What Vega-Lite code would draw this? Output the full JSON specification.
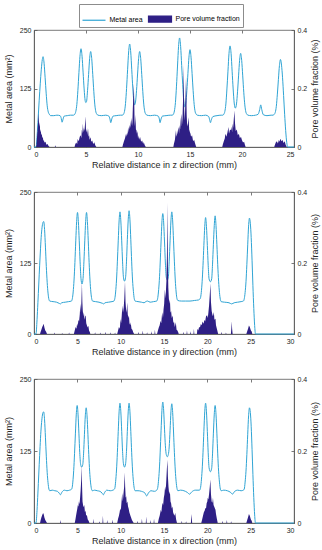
{
  "$schema": "https://vega.github.io/schema/vega-lite/v6.json",
  "padding": {"left": 3, "top": 3, "right": 1, "bottom": 2},
  "datasets": {
    "m1": [{"x":0,"y":0},{"x":0.2,"y":0},{"x":0.3,"y":25},{"x":0.4,"y":62},{"x":0.5,"y":100},{"x":0.6,"y":135},{"x":0.7,"y":165},{"x":0.8,"y":187},{"x":0.87,"y":193},{"x":0.97,"y":179},{"x":1.07,"y":148},{"x":1.17,"y":115},{"x":1.27,"y":88},{"x":1.37,"y":75},{"x":1.47,"y":70},{"x":1.6,"y":67},{"x":1.9,"y":67},{"x":2.2,"y":68},{"x":2.5,"y":67},{"x":2.6,"y":63},{"x":2.7,"y":53},{"x":2.8,"y":60},{"x":2.9,"y":66},{"x":3.2,"y":67},{"x":3.5,"y":68},{"x":3.8,"y":68},{"x":3.92,"y":70},{"x":4.02,"y":76},{"x":4.12,"y":91},{"x":4.22,"y":121},{"x":4.32,"y":159},{"x":4.42,"y":194},{"x":4.52,"y":210},{"x":4.62,"y":194},{"x":4.72,"y":160},{"x":4.82,"y":124},{"x":4.92,"y":99},{"x":4.985,"y":95},{"x":5.05,"y":97},{"x":5.15,"y":121},{"x":5.25,"y":155},{"x":5.35,"y":189},{"x":5.45,"y":204},{"x":5.55,"y":189},{"x":5.65,"y":155},{"x":5.75,"y":119},{"x":5.85,"y":90},{"x":5.95,"y":75},{"x":6.05,"y":70},{"x":6.15,"y":68},{"x":6.5,"y":67},{"x":6.9,"y":68},{"x":7.2,"y":66},{"x":7.3,"y":60},{"x":7.38,"y":52},{"x":7.48,"y":60},{"x":7.6,"y":66},{"x":7.9,"y":67},{"x":8.3,"y":68},{"x":8.5,"y":68},{"x":8.6,"y":70},{"x":8.7,"y":76},{"x":8.8,"y":93},{"x":8.9,"y":125},{"x":9.0,"y":165},{"x":9.1,"y":203},{"x":9.2,"y":220},{"x":9.3,"y":203},{"x":9.4,"y":165},{"x":9.5,"y":126},{"x":9.6,"y":98},{"x":9.68,"y":90},{"x":9.76,"y":96},{"x":9.86,"y":121},{"x":9.96,"y":156},{"x":10.06,"y":189},{"x":10.16,"y":204},{"x":10.26,"y":189},{"x":10.36,"y":155},{"x":10.46,"y":119},{"x":10.56,"y":90},{"x":10.66,"y":75},{"x":10.76,"y":70},{"x":10.86,"y":68},{"x":11.2,"y":67},{"x":11.6,"y":68},{"x":11.95,"y":66},{"x":12.05,"y":60},{"x":12.12,"y":52},{"x":12.22,"y":60},{"x":12.35,"y":66},{"x":12.7,"y":67},{"x":13.1,"y":68},{"x":13.3,"y":68},{"x":13.4,"y":70},{"x":13.5,"y":77},{"x":13.6,"y":95},{"x":13.7,"y":130},{"x":13.8,"y":173},{"x":13.9,"y":215},{"x":14.0,"y":233},{"x":14.1,"y":215},{"x":14.2,"y":174},{"x":14.3,"y":133},{"x":14.4,"y":98},{"x":14.5,"y":86},{"x":14.6,"y":94},{"x":14.7,"y":121},{"x":14.8,"y":157},{"x":14.9,"y":192},{"x":15.0,"y":208},{"x":15.1,"y":192},{"x":15.2,"y":157},{"x":15.3,"y":121},{"x":15.4,"y":91},{"x":15.5,"y":75},{"x":15.6,"y":70},{"x":15.7,"y":68},{"x":16.1,"y":67},{"x":16.5,"y":68},{"x":16.8,"y":65},{"x":16.9,"y":57},{"x":16.97,"y":52},{"x":17.05,"y":58},{"x":17.2,"y":65},{"x":17.6,"y":67},{"x":18.0,"y":68},{"x":18.15,"y":68},{"x":18.25,"y":70},{"x":18.35,"y":76},{"x":18.45,"y":92},{"x":18.55,"y":124},{"x":18.65,"y":162},{"x":18.75,"y":200},{"x":18.85,"y":216},{"x":18.95,"y":200},{"x":19.05,"y":162},{"x":19.15,"y":124},{"x":19.25,"y":94},{"x":19.36,"y":83},{"x":19.47,"y":92},{"x":19.57,"y":118},{"x":19.67,"y":152},{"x":19.77,"y":185},{"x":19.87,"y":200},{"x":19.97,"y":185},{"x":20.07,"y":152},{"x":20.17,"y":117},{"x":20.27,"y":90},{"x":20.37,"y":75},{"x":20.47,"y":70},{"x":20.57,"y":68},{"x":20.9,"y":67},{"x":21.3,"y":68},{"x":21.55,"y":70},{"x":21.7,"y":80},{"x":21.8,"y":90},{"x":21.9,"y":80},{"x":22.05,"y":69},{"x":22.4,"y":67},{"x":22.8,"y":68},{"x":23.0,"y":68},{"x":23.1,"y":70},{"x":23.2,"y":74},{"x":23.3,"y":87},{"x":23.4,"y":113},{"x":23.5,"y":144},{"x":23.6,"y":174},{"x":23.7,"y":187},{"x":23.8,"y":175},{"x":23.9,"y":148},{"x":24.0,"y":110},{"x":24.1,"y":70},{"x":24.2,"y":35},{"x":24.3,"y":10},{"x":24.4,"y":0},{"x":25,"y":0}],
    "p1": [{"x":0,"y":0},{"x":0.2,"y":0},{"x":0.25,"y":0.01},{"x":0.3,"y":0.04},{"x":0.35,"y":0.06},{"x":0.4,"y":0.09},{"x":0.45,"y":0.115},{"x":0.5,"y":0.07},{"x":0.55,"y":0.085},{"x":0.6,"y":0.05},{"x":0.65,"y":0.06},{"x":0.7,"y":0.04},{"x":0.75,"y":0.045},{"x":0.8,"y":0.03},{"x":0.85,"y":0.035},{"x":0.9,"y":0.02},{"x":0.95,"y":0.025},{"x":1.0,"y":0.015},{"x":1.1,"y":0.018},{"x":1.2,"y":0.008},{"x":1.3,"y":0.01},{"x":1.4,"y":0.003},{"x":1.5,"y":0},{"x":2.0,"y":0},{"x":2.05,"y":0.006},{"x":2.1,"y":0},{"x":3.9,"y":0},{"x":3.95,"y":0.008},{"x":4.05,"y":0.015},{"x":4.15,"y":0.01},{"x":4.2,"y":0.027},{"x":4.3,"y":0.02},{"x":4.4,"y":0.035},{"x":4.5,"y":0.04},{"x":4.55,"y":0.03},{"x":4.6,"y":0.06},{"x":4.65,"y":0.045},{"x":4.7,"y":0.08},{"x":4.75,"y":0.05},{"x":4.8,"y":0.065},{"x":4.85,"y":0.055},{"x":4.9,"y":0.075},{"x":4.95,"y":0.105},{"x":5.0,"y":0.06},{"x":5.05,"y":0.05},{"x":5.1,"y":0.065},{"x":5.15,"y":0.04},{"x":5.2,"y":0.062},{"x":5.25,"y":0.035},{"x":5.3,"y":0.04},{"x":5.35,"y":0.025},{"x":5.45,"y":0.033},{"x":5.5,"y":0.018},{"x":5.6,"y":0.022},{"x":5.7,"y":0.01},{"x":5.8,"y":0.016},{"x":5.9,"y":0.005},{"x":6.0,"y":0},{"x":8.5,"y":0},{"x":8.55,"y":0.008},{"x":8.65,"y":0.02},{"x":8.75,"y":0.03},{"x":8.85,"y":0.045},{"x":8.9,"y":0.035},{"x":8.95,"y":0.05},{"x":9.0,"y":0.04},{"x":9.05,"y":0.068},{"x":9.1,"y":0.05},{"x":9.15,"y":0.075},{"x":9.2,"y":0.06},{"x":9.25,"y":0.09},{"x":9.3,"y":0.065},{"x":9.35,"y":0.08},{"x":9.4,"y":0.1},{"x":9.45,"y":0.07},{"x":9.5,"y":0.13},{"x":9.55,"y":0.17},{"x":9.6,"y":0.215},{"x":9.64,"y":0.15},{"x":9.67,"y":0.09},{"x":9.7,"y":0.07},{"x":9.75,"y":0.11},{"x":9.8,"y":0.06},{"x":9.85,"y":0.057},{"x":9.9,"y":0.045},{"x":9.95,"y":0.055},{"x":10.0,"y":0.03},{"x":10.05,"y":0.04},{"x":10.1,"y":0.025},{"x":10.2,"y":0.034},{"x":10.3,"y":0.018},{"x":10.4,"y":0.022},{"x":10.5,"y":0.01},{"x":10.55,"y":0.017},{"x":10.65,"y":0.006},{"x":10.75,"y":0},{"x":13.4,"y":0},{"x":13.45,"y":0.01},{"x":13.55,"y":0.025},{"x":13.65,"y":0.057},{"x":13.7,"y":0.035},{"x":13.8,"y":0.05},{"x":13.9,"y":0.068},{"x":13.95,"y":0.045},{"x":14.0,"y":0.075},{"x":14.05,"y":0.06},{"x":14.1,"y":0.09},{"x":14.17,"y":0.114},{"x":14.22,"y":0.07},{"x":14.28,"y":0.1},{"x":14.33,"y":0.16},{"x":14.39,"y":0.28},{"x":14.44,"y":0.13},{"x":14.5,"y":0.09},{"x":14.55,"y":0.15},{"x":14.62,"y":0.24},{"x":14.68,"y":0.11},{"x":14.73,"y":0.07},{"x":14.8,"y":0.08},{"x":14.87,"y":0.102},{"x":14.92,"y":0.06},{"x":15.0,"y":0.05},{"x":15.05,"y":0.045},{"x":15.1,"y":0.035},{"x":15.2,"y":0.04},{"x":15.3,"y":0.02},{"x":15.4,"y":0.025},{"x":15.45,"y":0.017},{"x":15.55,"y":0.005},{"x":15.6,"y":0},{"x":18.1,"y":0},{"x":18.15,"y":0.008},{"x":18.25,"y":0.02},{"x":18.35,"y":0.03},{"x":18.4,"y":0.045},{"x":18.5,"y":0.035},{"x":18.6,"y":0.05},{"x":18.7,"y":0.068},{"x":18.75,"y":0.045},{"x":18.85,"y":0.06},{"x":18.95,"y":0.057},{"x":19.0,"y":0.07},{"x":19.05,"y":0.05},{"x":19.1,"y":0.08},{"x":19.15,"y":0.065},{"x":19.2,"y":0.09},{"x":19.27,"y":0.125},{"x":19.33,"y":0.08},{"x":19.4,"y":0.055},{"x":19.5,"y":0.06},{"x":19.6,"y":0.04},{"x":19.7,"y":0.045},{"x":19.8,"y":0.03},{"x":19.9,"y":0.035},{"x":20.0,"y":0.023},{"x":20.1,"y":0.015},{"x":20.2,"y":0.018},{"x":20.3,"y":0.005},{"x":20.35,"y":0},{"x":23.1,"y":0},{"x":23.15,"y":0.006},{"x":23.25,"y":0.015},{"x":23.35,"y":0.02},{"x":23.45,"y":0.012},{"x":23.55,"y":0.025},{"x":23.6,"y":0.018},{"x":23.7,"y":0.028},{"x":23.8,"y":0.02},{"x":23.9,"y":0.024},{"x":24.0,"y":0.014},{"x":24.1,"y":0.02},{"x":24.2,"y":0.008},{"x":24.3,"y":0},{"x":25,"y":0}],
    "m2": [{"x":0,"y":0},{"x":0.23,"y":0},{"x":0.35,"y":25},{"x":0.45,"y":55},{"x":0.55,"y":88},{"x":0.65,"y":120},{"x":0.75,"y":150},{"x":0.85,"y":175},{"x":0.95,"y":190},{"x":1.05,"y":197},{"x":1.12,"y":198},{"x":1.22,"y":184},{"x":1.32,"y":153},{"x":1.42,"y":119},{"x":1.52,"y":91},{"x":1.62,"y":72},{"x":1.72,"y":61},{"x":1.82,"y":58},{"x":2.2,"y":57},{"x":2.6,"y":56},{"x":2.9,"y":54},{"x":3.05,"y":53},{"x":3.2,"y":55},{"x":3.6,"y":56},{"x":4.0,"y":57},{"x":4.32,"y":58},{"x":4.42,"y":62},{"x":4.52,"y":74},{"x":4.62,"y":95},{"x":4.72,"y":126},{"x":4.82,"y":164},{"x":4.92,"y":198},{"x":5.02,"y":214},{"x":5.12,"y":198},{"x":5.22,"y":164},{"x":5.32,"y":127},{"x":5.42,"y":98},{"x":5.54,"y":88},{"x":5.66,"y":98},{"x":5.76,"y":127},{"x":5.86,"y":164},{"x":5.96,"y":198},{"x":6.06,"y":214},{"x":6.16,"y":198},{"x":6.26,"y":164},{"x":6.36,"y":126},{"x":6.46,"y":95},{"x":6.56,"y":74},{"x":6.66,"y":62},{"x":6.76,"y":58},{"x":7.1,"y":57},{"x":7.5,"y":56},{"x":7.9,"y":54},{"x":8.05,"y":53},{"x":8.2,"y":55},{"x":8.6,"y":56},{"x":9.0,"y":57},{"x":9.22,"y":58},{"x":9.32,"y":62},{"x":9.42,"y":74},{"x":9.52,"y":95},{"x":9.62,"y":127},{"x":9.72,"y":164},{"x":9.82,"y":199},{"x":9.92,"y":215},{"x":10.02,"y":199},{"x":10.12,"y":164},{"x":10.22,"y":127},{"x":10.32,"y":100},{"x":10.445,"y":93},{"x":10.57,"y":100},{"x":10.67,"y":127},{"x":10.77,"y":166},{"x":10.87,"y":201},{"x":10.97,"y":217},{"x":11.07,"y":201},{"x":11.17,"y":166},{"x":11.27,"y":127},{"x":11.37,"y":95},{"x":11.47,"y":75},{"x":11.57,"y":62},{"x":11.67,"y":58},{"x":12.0,"y":57},{"x":12.4,"y":56},{"x":12.7,"y":55},{"x":12.9,"y":57},{"x":13.1,"y":58},{"x":13.4,"y":56},{"x":13.8,"y":57},{"x":14.16,"y":58},{"x":14.26,"y":62},{"x":14.36,"y":74},{"x":14.46,"y":94},{"x":14.56,"y":125},{"x":14.66,"y":162},{"x":14.76,"y":197},{"x":14.86,"y":212},{"x":14.96,"y":197},{"x":15.06,"y":162},{"x":15.16,"y":125},{"x":15.26,"y":100},{"x":15.38,"y":95},{"x":15.5,"y":100},{"x":15.6,"y":127},{"x":15.7,"y":164},{"x":15.8,"y":199},{"x":15.9,"y":215},{"x":16.0,"y":199},{"x":16.1,"y":164},{"x":16.2,"y":127},{"x":16.3,"y":95},{"x":16.4,"y":74},{"x":16.5,"y":62},{"x":16.6,"y":59},{"x":17.0,"y":58},{"x":17.5,"y":58},{"x":18.0,"y":58},{"x":18.5,"y":59},{"x":19.0,"y":60},{"x":19.1,"y":61},{"x":19.2,"y":63},{"x":19.3,"y":73},{"x":19.4,"y":92},{"x":19.5,"y":121},{"x":19.6,"y":156},{"x":19.7,"y":189},{"x":19.8,"y":205},{"x":19.9,"y":189},{"x":20.0,"y":156},{"x":20.1,"y":121},{"x":20.2,"y":97},{"x":20.35,"y":92},{"x":20.5,"y":97},{"x":20.6,"y":123},{"x":20.7,"y":158},{"x":20.8,"y":191},{"x":20.9,"y":208},{"x":21.0,"y":191},{"x":21.1,"y":158},{"x":21.2,"y":122},{"x":21.3,"y":93},{"x":21.4,"y":73},{"x":21.5,"y":61},{"x":21.6,"y":57},{"x":22.0,"y":56},{"x":22.5,"y":55},{"x":22.8,"y":53},{"x":23.1,"y":55},{"x":23.5,"y":56},{"x":23.9,"y":57},{"x":24.16,"y":58},{"x":24.26,"y":62},{"x":24.36,"y":73},{"x":24.46,"y":92},{"x":24.56,"y":122},{"x":24.66,"y":157},{"x":24.76,"y":190},{"x":24.86,"y":204},{"x":24.96,"y":195},{"x":25.06,"y":170},{"x":25.16,"y":130},{"x":25.26,"y":85},{"x":25.36,"y":45},{"x":25.46,"y":15},{"x":25.56,"y":0},{"x":30,"y":0}],
    "p2": [{"x":0,"y":0},{"x":0.7,"y":0},{"x":0.75,"y":0.005},{"x":0.85,"y":0.012},{"x":0.95,"y":0.02},{"x":1.05,"y":0.025},{"x":1.12,"y":0.029},{"x":1.2,"y":0.018},{"x":1.3,"y":0.01},{"x":1.4,"y":0.006},{"x":1.5,"y":0},{"x":2.3,"y":0},{"x":2.35,"y":0.004},{"x":2.4,"y":0},{"x":3.2,"y":0},{"x":3.25,"y":0.003},{"x":3.3,"y":0},{"x":4.0,"y":0},{"x":4.05,"y":0.004},{"x":4.1,"y":0},{"x":4.6,"y":0},{"x":4.7,"y":0.01},{"x":4.8,"y":0.02},{"x":4.9,"y":0.015},{"x":4.98,"y":0.03},{"x":5.05,"y":0.022},{"x":5.12,"y":0.04},{"x":5.2,"y":0.035},{"x":5.28,"y":0.055},{"x":5.35,"y":0.085},{"x":5.42,"y":0.06},{"x":5.48,"y":0.1},{"x":5.53,"y":0.145},{"x":5.58,"y":0.09},{"x":5.63,"y":0.065},{"x":5.7,"y":0.05},{"x":5.76,"y":0.062},{"x":5.82,"y":0.04},{"x":5.9,"y":0.05},{"x":5.96,"y":0.052},{"x":6.03,"y":0.03},{"x":6.1,"y":0.025},{"x":6.2,"y":0.018},{"x":6.27,"y":0.023},{"x":6.35,"y":0.01},{"x":6.45,"y":0.005},{"x":6.5,"y":0},{"x":7.0,"y":0},{"x":7.05,"y":0.005},{"x":7.1,"y":0},{"x":7.6,"y":0},{"x":7.65,"y":0.004},{"x":7.7,"y":0},{"x":8.2,"y":0},{"x":8.25,"y":0.006},{"x":8.3,"y":0},{"x":8.8,"y":0},{"x":8.85,"y":0.005},{"x":8.9,"y":0},{"x":9.3,"y":0},{"x":9.35,"y":0.004},{"x":9.4,"y":0},{"x":9.6,"y":0},{"x":9.7,"y":0.01},{"x":9.8,"y":0.02},{"x":9.9,"y":0.015},{"x":9.99,"y":0.042},{"x":10.05,"y":0.03},{"x":10.12,"y":0.05},{"x":10.2,"y":0.08},{"x":10.27,"y":0.06},{"x":10.35,"y":0.075},{"x":10.42,"y":0.1},{"x":10.5,"y":0.148},{"x":10.56,"y":0.09},{"x":10.62,"y":0.07},{"x":10.68,"y":0.06},{"x":10.76,"y":0.089},{"x":10.82,"y":0.055},{"x":10.9,"y":0.045},{"x":10.95,"y":0.052},{"x":11.02,"y":0.03},{"x":11.1,"y":0.025},{"x":11.15,"y":0.033},{"x":11.25,"y":0.015},{"x":11.35,"y":0.012},{"x":11.45,"y":0.005},{"x":11.55,"y":0},{"x":12.0,"y":0},{"x":12.05,"y":0.006},{"x":12.1,"y":0},{"x":12.5,"y":0},{"x":12.55,"y":0.01},{"x":12.6,"y":0},{"x":13.0,"y":0},{"x":13.05,"y":0.005},{"x":13.1,"y":0},{"x":13.5,"y":0},{"x":13.55,"y":0.008},{"x":13.6,"y":0},{"x":13.9,"y":0},{"x":13.95,"y":0.012},{"x":14.0,"y":0},{"x":14.2,"y":0},{"x":14.3,"y":0.01},{"x":14.4,"y":0.018},{"x":14.5,"y":0.025},{"x":14.6,"y":0.037},{"x":14.68,"y":0.03},{"x":14.75,"y":0.05},{"x":14.8,"y":0.061},{"x":14.88,"y":0.045},{"x":14.95,"y":0.07},{"x":15.02,"y":0.085},{"x":15.1,"y":0.126},{"x":15.16,"y":0.1},{"x":15.22,"y":0.12},{"x":15.28,"y":0.15},{"x":15.34,"y":0.22},{"x":15.4,"y":0.37},{"x":15.45,"y":0.2},{"x":15.5,"y":0.13},{"x":15.56,"y":0.1},{"x":15.62,"y":0.085},{"x":15.68,"y":0.098},{"x":15.75,"y":0.06},{"x":15.82,"y":0.065},{"x":15.9,"y":0.045},{"x":16.0,"y":0.052},{"x":16.08,"y":0.03},{"x":16.15,"y":0.035},{"x":16.25,"y":0.02},{"x":16.36,"y":0.033},{"x":16.45,"y":0.012},{"x":16.55,"y":0.01},{"x":16.65,"y":0.004},{"x":16.7,"y":0},{"x":17.2,"y":0},{"x":17.25,"y":0.006},{"x":17.3,"y":0},{"x":17.6,"y":0},{"x":17.65,"y":0.01},{"x":17.7,"y":0},{"x":18.0,"y":0},{"x":18.05,"y":0.008},{"x":18.1,"y":0},{"x":18.4,"y":0},{"x":18.45,"y":0.015},{"x":18.5,"y":0},{"x":18.8,"y":0},{"x":18.85,"y":0.015},{"x":18.95,"y":0.01},{"x":19.05,"y":0.02},{"x":19.15,"y":0.018},{"x":19.25,"y":0.028},{"x":19.35,"y":0.025},{"x":19.45,"y":0.035},{"x":19.58,"y":0.029},{"x":19.65,"y":0.04},{"x":19.75,"y":0.035},{"x":19.85,"y":0.05},{"x":19.97,"y":0.053},{"x":20.05,"y":0.045},{"x":20.12,"y":0.06},{"x":20.2,"y":0.08},{"x":20.28,"y":0.11},{"x":20.36,"y":0.142},{"x":20.42,"y":0.09},{"x":20.5,"y":0.065},{"x":20.58,"y":0.055},{"x":20.65,"y":0.05},{"x":20.75,"y":0.062},{"x":20.82,"y":0.04},{"x":20.94,"y":0.043},{"x":21.0,"y":0.025},{"x":21.1,"y":0.015},{"x":21.2,"y":0.005},{"x":21.25,"y":0},{"x":21.6,"y":0},{"x":21.65,"y":0.006},{"x":21.7,"y":0},{"x":22.1,"y":0},{"x":22.15,"y":0.004},{"x":22.2,"y":0},{"x":22.72,"y":0},{"x":22.78,"y":0.02},{"x":22.82,"y":0.036},{"x":22.86,"y":0.015},{"x":22.92,"y":0},{"x":24.5,"y":0},{"x":24.6,"y":0.008},{"x":24.7,"y":0.015},{"x":24.8,"y":0.024},{"x":24.9,"y":0.02},{"x":25.0,"y":0.012},{"x":25.1,"y":0.006},{"x":25.2,"y":0},{"x":30,"y":0}],
    "m3": [{"x":0,"y":0},{"x":0.23,"y":0},{"x":0.35,"y":22},{"x":0.45,"y":52},{"x":0.55,"y":85},{"x":0.65,"y":117},{"x":0.75,"y":147},{"x":0.85,"y":170},{"x":0.95,"y":185},{"x":1.05,"y":192},{"x":1.12,"y":193},{"x":1.22,"y":179},{"x":1.32,"y":149},{"x":1.42,"y":116},{"x":1.52,"y":88},{"x":1.62,"y":70},{"x":1.72,"y":59},{"x":1.82,"y":56},{"x":2.1,"y":57},{"x":2.4,"y":56},{"x":2.7,"y":55},{"x":2.9,"y":52},{"x":3.05,"y":49},{"x":3.2,"y":53},{"x":3.5,"y":57},{"x":3.8,"y":56},{"x":4.1,"y":57},{"x":4.28,"y":58},{"x":4.38,"y":60},{"x":4.48,"y":71},{"x":4.58,"y":91},{"x":4.68,"y":121},{"x":4.78,"y":156},{"x":4.88,"y":189},{"x":4.98,"y":204},{"x":5.08,"y":189},{"x":5.18,"y":156},{"x":5.28,"y":122},{"x":5.38,"y":102},{"x":5.5,"y":97},{"x":5.62,"y":101},{"x":5.72,"y":120},{"x":5.82,"y":154},{"x":5.92,"y":186},{"x":6.02,"y":200},{"x":6.12,"y":186},{"x":6.22,"y":154},{"x":6.32,"y":119},{"x":6.42,"y":90},{"x":6.52,"y":71},{"x":6.62,"y":60},{"x":6.72,"y":56},{"x":7.0,"y":57},{"x":7.3,"y":56},{"x":7.6,"y":55},{"x":7.85,"y":52},{"x":8.0,"y":49},{"x":8.15,"y":53},{"x":8.4,"y":57},{"x":8.8,"y":56},{"x":9.1,"y":57},{"x":9.22,"y":58},{"x":9.32,"y":60},{"x":9.42,"y":72},{"x":9.52,"y":92},{"x":9.62,"y":122},{"x":9.72,"y":159},{"x":9.82,"y":193},{"x":9.92,"y":208},{"x":10.02,"y":193},{"x":10.12,"y":159},{"x":10.22,"y":124},{"x":10.32,"y":103},{"x":10.445,"y":97},{"x":10.57,"y":103},{"x":10.67,"y":124},{"x":10.77,"y":159},{"x":10.87,"y":193},{"x":10.97,"y":208},{"x":11.07,"y":193},{"x":11.17,"y":159},{"x":11.27,"y":122},{"x":11.37,"y":92},{"x":11.47,"y":72},{"x":11.57,"y":60},{"x":11.67,"y":56},{"x":12.0,"y":56},{"x":12.4,"y":55},{"x":12.8,"y":52},{"x":13.0,"y":47},{"x":13.2,"y":52},{"x":13.5,"y":56},{"x":13.9,"y":55},{"x":14.16,"y":57},{"x":14.26,"y":60},{"x":14.36,"y":72},{"x":14.46,"y":92},{"x":14.56,"y":123},{"x":14.66,"y":160},{"x":14.76,"y":195},{"x":14.86,"y":210},{"x":14.96,"y":196},{"x":15.06,"y":163},{"x":15.16,"y":134},{"x":15.26,"y":119},{"x":15.38,"y":115},{"x":15.5,"y":119},{"x":15.6,"y":132},{"x":15.7,"y":161},{"x":15.8,"y":193},{"x":15.9,"y":207},{"x":16.0,"y":192},{"x":16.1,"y":158},{"x":16.2,"y":122},{"x":16.3,"y":92},{"x":16.4,"y":72},{"x":16.5,"y":60},{"x":16.6,"y":56},{"x":16.9,"y":57},{"x":17.3,"y":56},{"x":17.7,"y":53},{"x":17.95,"y":50},{"x":18.2,"y":54},{"x":18.6,"y":57},{"x":19.1,"y":57},{"x":19.2,"y":60},{"x":19.3,"y":72},{"x":19.4,"y":92},{"x":19.5,"y":122},{"x":19.6,"y":159},{"x":19.7,"y":193},{"x":19.8,"y":208},{"x":19.9,"y":193},{"x":20.0,"y":159},{"x":20.1,"y":122},{"x":20.2,"y":96},{"x":20.35,"y":89},{"x":20.5,"y":95},{"x":20.6,"y":120},{"x":20.7,"y":156},{"x":20.8,"y":189},{"x":20.9,"y":204},{"x":21.0,"y":189},{"x":21.1,"y":156},{"x":21.2,"y":120},{"x":21.3,"y":90},{"x":21.4,"y":71},{"x":21.5,"y":59},{"x":21.6,"y":56},{"x":21.9,"y":57},{"x":22.3,"y":56},{"x":22.7,"y":53},{"x":22.9,"y":50},{"x":23.1,"y":54},{"x":23.5,"y":57},{"x":23.9,"y":56},{"x":24.16,"y":57},{"x":24.26,"y":59},{"x":24.36,"y":71},{"x":24.46,"y":90},{"x":24.56,"y":119},{"x":24.66,"y":154},{"x":24.76,"y":186},{"x":24.86,"y":200},{"x":24.96,"y":192},{"x":25.06,"y":168},{"x":25.16,"y":128},{"x":25.26,"y":84},{"x":25.36,"y":44},{"x":25.46,"y":14},{"x":25.56,"y":0},{"x":30,"y":0}],
    "p3": [{"x":0,"y":0},{"x":0.7,"y":0},{"x":0.75,"y":0.006},{"x":0.85,"y":0.015},{"x":0.95,"y":0.022},{"x":1.05,"y":0.028},{"x":1.12,"y":0.024},{"x":1.2,"y":0.015},{"x":1.3,"y":0.008},{"x":1.4,"y":0.004},{"x":1.5,"y":0},{"x":3.0,"y":0},{"x":3.05,"y":0.008},{"x":3.1,"y":0},{"x":4.7,"y":0},{"x":4.78,"y":0.01},{"x":4.85,"y":0.02},{"x":4.92,"y":0.03},{"x":5.0,"y":0.04},{"x":5.06,"y":0.05},{"x":5.12,"y":0.045},{"x":5.18,"y":0.06},{"x":5.25,"y":0.052},{"x":5.32,"y":0.07},{"x":5.38,"y":0.09},{"x":5.45,"y":0.12},{"x":5.5,"y":0.16},{"x":5.55,"y":0.1},{"x":5.6,"y":0.06},{"x":5.66,"y":0.05},{"x":5.72,"y":0.044},{"x":5.8,"y":0.05},{"x":5.88,"y":0.03},{"x":5.95,"y":0.035},{"x":6.02,"y":0.02},{"x":6.1,"y":0.022},{"x":6.2,"y":0.01},{"x":6.3,"y":0.006},{"x":6.4,"y":0},{"x":6.8,"y":0},{"x":6.85,"y":0.012},{"x":6.9,"y":0},{"x":7.5,"y":0},{"x":7.55,"y":0.005},{"x":7.6,"y":0},{"x":7.9,"y":0},{"x":7.95,"y":0.02},{"x":8.0,"y":0},{"x":8.4,"y":0},{"x":8.45,"y":0.008},{"x":8.5,"y":0},{"x":9.0,"y":0},{"x":9.05,"y":0.01},{"x":9.1,"y":0},{"x":9.6,"y":0},{"x":9.7,"y":0.012},{"x":9.8,"y":0.02},{"x":9.88,"y":0.03},{"x":9.95,"y":0.04},{"x":10.02,"y":0.035},{"x":10.1,"y":0.06},{"x":10.18,"y":0.083},{"x":10.25,"y":0.06},{"x":10.32,"y":0.08},{"x":10.4,"y":0.1},{"x":10.47,"y":0.14},{"x":10.52,"y":0.1},{"x":10.58,"y":0.07},{"x":10.64,"y":0.074},{"x":10.7,"y":0.055},{"x":10.78,"y":0.06},{"x":10.85,"y":0.046},{"x":10.92,"y":0.04},{"x":11.0,"y":0.03},{"x":11.1,"y":0.022},{"x":11.2,"y":0.015},{"x":11.3,"y":0.008},{"x":11.4,"y":0.004},{"x":11.5,"y":0},{"x":11.9,"y":0},{"x":11.95,"y":0.006},{"x":12.0,"y":0},{"x":12.4,"y":0},{"x":12.45,"y":0.012},{"x":12.5,"y":0},{"x":12.9,"y":0},{"x":12.95,"y":0.018},{"x":13.0,"y":0},{"x":13.4,"y":0},{"x":13.45,"y":0.008},{"x":13.5,"y":0},{"x":13.8,"y":0},{"x":13.85,"y":0.012},{"x":13.9,"y":0},{"x":14.3,"y":0},{"x":14.4,"y":0.012},{"x":14.5,"y":0.02},{"x":14.58,"y":0.03},{"x":14.63,"y":0.037},{"x":14.7,"y":0.03},{"x":14.76,"y":0.045},{"x":14.83,"y":0.056},{"x":14.9,"y":0.05},{"x":14.98,"y":0.07},{"x":15.05,"y":0.08},{"x":15.13,"y":0.102},{"x":15.2,"y":0.09},{"x":15.27,"y":0.12},{"x":15.33,"y":0.15},{"x":15.4,"y":0.176},{"x":15.45,"y":0.13},{"x":15.52,"y":0.1},{"x":15.6,"y":0.08},{"x":15.68,"y":0.088},{"x":15.75,"y":0.06},{"x":15.82,"y":0.055},{"x":15.9,"y":0.04},{"x":15.98,"y":0.046},{"x":16.05,"y":0.03},{"x":16.12,"y":0.025},{"x":16.2,"y":0.02},{"x":16.3,"y":0.028},{"x":16.4,"y":0.01},{"x":16.5,"y":0},{"x":17.0,"y":0},{"x":17.05,"y":0.006},{"x":17.1,"y":0},{"x":17.5,"y":0},{"x":17.55,"y":0.005},{"x":17.6,"y":0},{"x":18.1,"y":0},{"x":18.18,"y":0.025},{"x":18.25,"y":0},{"x":19.3,"y":0},{"x":19.4,"y":0.01},{"x":19.5,"y":0.02},{"x":19.6,"y":0.03},{"x":19.7,"y":0.035},{"x":19.77,"y":0.042},{"x":19.85,"y":0.04},{"x":19.92,"y":0.055},{"x":20.0,"y":0.06},{"x":20.05,"y":0.07},{"x":20.12,"y":0.065},{"x":20.2,"y":0.08},{"x":20.28,"y":0.1},{"x":20.35,"y":0.121},{"x":20.42,"y":0.08},{"x":20.5,"y":0.06},{"x":20.58,"y":0.056},{"x":20.65,"y":0.07},{"x":20.72,"y":0.05},{"x":20.8,"y":0.045},{"x":20.88,"y":0.04},{"x":20.94,"y":0.037},{"x":21.0,"y":0.025},{"x":21.1,"y":0.012},{"x":21.2,"y":0},{"x":21.7,"y":0},{"x":21.75,"y":0.006},{"x":21.8,"y":0},{"x":22.2,"y":0},{"x":22.25,"y":0.008},{"x":22.3,"y":0},{"x":22.7,"y":0},{"x":22.75,"y":0.005},{"x":22.8,"y":0},{"x":24.5,"y":0},{"x":24.6,"y":0.008},{"x":24.7,"y":0.016},{"x":24.8,"y":0.025},{"x":24.9,"y":0.02},{"x":25.0,"y":0.012},{"x":25.1,"y":0.005},{"x":25.2,"y":0},{"x":30,"y":0}]
  },
  "config": {
    "font": "Liberation Sans",
    "view": {"stroke": "#595959", "strokeWidth": 0.8},
    "axis": {
      "grid": false,
      "domainColor": "#595959",
      "domainWidth": 0.8,
      "tickColor": "#595959",
      "tickWidth": 0.8,
      "tickSize": -3,
      "labelFontSize": 7,
      "labelColor": "#262626",
      "labelPadding": 6,
      "titleFontSize": 9,
      "titleFontWeight": "normal",
      "titleColor": "#262626",
      "titlePadding": 3
    },
    "axisX": {"format": "d"},
    "axisLeft": {"format": "d", "titlePadding": 6},
    "axisRight": {"format": ".1~f", "titleBaseline": "top", "titlePadding": 4}
  },
  "spacing": 45,
  "bounds": "flush",
  "vconcat": [
    {
      "width": 260,
      "height": 117,
      "layer": [
        {
          "data": {"name": "m1"},
          "mark": {"type": "line", "interpolate": "monotone", "strokeWidth": 1},
          "encoding": {
            "x": {"field": "x", "type": "quantitative", "scale": {"domain": [0, 25], "nice": false}, "axis": {"values": [0, 5, 10, 15, 20, 25], "title": "Relative distance in z direction (mm)"}},
            "y": {"field": "y", "type": "quantitative", "scale": {"domain": [0, 250], "nice": false}, "axis": {"values": [0, 125, 250], "title": "Metal area (mm²)"}},
            "color": {
              "datum": "Metal area",
              "scale": {"domain": ["Metal area", "Pore volume fraction"], "range": ["#2fa4d4", "#2e1f85"]},
              "legend": {
                "orient": "none", "legendX": 45, "legendY": -26, "direction": "horizontal", "title": null,
                "strokeColor": "#8c8c8c", "fillColor": "white", "padding": 2.5,
                "labelFontSize": 7, "labelColor": "#000000", "labelOffset": 3, "columnPadding": 2,
                "symbolSize": 529, "symbolStrokeWidth": 1.2,
                "encode": {"symbols": {"update": {
                  "shape": {"signal": "datum.value === 'Metal area' ? 'stroke' : 'M-1,-0.26H1V0.26H-1Z'"},
                  "fill": {"signal": "datum.value === 'Metal area' ? 'transparent' : '#2e1f85'"},
                  "stroke": {"signal": "datum.value === 'Metal area' ? '#2fa4d4' : '#2e1f85'"},
                  "opacity": {"value": 1}
                }}}
              }
            }
          }
        },
        {
          "data": {"name": "p1"},
          "mark": {"type": "area", "interpolate": "linear", "opacity": 1},
          "encoding": {
            "x": {"field": "x", "type": "quantitative", "axis": {"orient": "top", "labels": false, "title": null, "domain": false, "values": [0, 5, 10, 15, 20, 25]}},
            "y": {"field": "y", "type": "quantitative", "scale": {"domain": [0, 0.4], "nice": false}, "axis": {"orient": "right", "values": [0, 0.2, 0.4], "title": "Pore volume fraction (%)", "titleAngle": 270}},
            "color": {"datum": "Pore volume fraction"}
          }
        }
      ],
      "resolve": {"scale": {"y": "independent"}, "axis": {"x": "independent"}}
    },
    {
      "width": 260,
      "height": 142,
      "layer": [
        {
          "data": {"name": "m2"},
          "mark": {"type": "line", "interpolate": "monotone", "strokeWidth": 1, "color": "#2fa4d4"},
          "encoding": {
            "x": {"field": "x", "type": "quantitative", "scale": {"domain": [0, 30], "nice": false}, "axis": {"values": [0, 5, 10, 15, 20, 25, 30], "title": "Relative distance in y direction (mm)"}},
            "y": {"field": "y", "type": "quantitative", "scale": {"domain": [0, 250], "nice": false}, "axis": {"values": [0, 125, 250], "title": "Metal area (mm²)"}}
          }
        },
        {
          "data": {"name": "p2"},
          "mark": {"type": "area", "interpolate": "linear", "color": "#2e1f85", "opacity": 1},
          "encoding": {
            "x": {"field": "x", "type": "quantitative", "axis": {"orient": "top", "labels": false, "title": null, "domain": false, "values": [0, 5, 10, 15, 20, 25, 30]}},
            "y": {"field": "y", "type": "quantitative", "scale": {"domain": [0, 0.4], "nice": false}, "axis": {"orient": "right", "values": [0, 0.2, 0.4], "title": "Pore volume fraction (%)", "titleAngle": 270}}
          }
        }
      ],
      "resolve": {"scale": {"y": "independent"}, "axis": {"x": "independent"}}
    },
    {
      "width": 260,
      "height": 144,
      "layer": [
        {
          "data": {"name": "m3"},
          "mark": {"type": "line", "interpolate": "monotone", "strokeWidth": 1, "color": "#2fa4d4"},
          "encoding": {
            "x": {"field": "x", "type": "quantitative", "scale": {"domain": [0, 30], "nice": false}, "axis": {"values": [0, 5, 10, 15, 20, 25, 30], "title": "Relative distance in x direction (mm)"}},
            "y": {"field": "y", "type": "quantitative", "scale": {"domain": [0, 250], "nice": false}, "axis": {"values": [0, 125, 250], "title": "Metal area (mm²)"}}
          }
        },
        {
          "data": {"name": "p3"},
          "mark": {"type": "area", "interpolate": "linear", "color": "#2e1f85", "opacity": 1},
          "encoding": {
            "x": {"field": "x", "type": "quantitative", "axis": {"orient": "top", "labels": false, "title": null, "domain": false, "values": [0, 5, 10, 15, 20, 25, 30]}},
            "y": {"field": "y", "type": "quantitative", "scale": {"domain": [0, 0.4], "nice": false}, "axis": {"orient": "right", "values": [0, 0.2, 0.4], "title": "Pore volume fraction (%)", "titleAngle": 270}}
          }
        }
      ],
      "resolve": {"scale": {"y": "independent"}, "axis": {"x": "independent"}}
    }
  ]
}
